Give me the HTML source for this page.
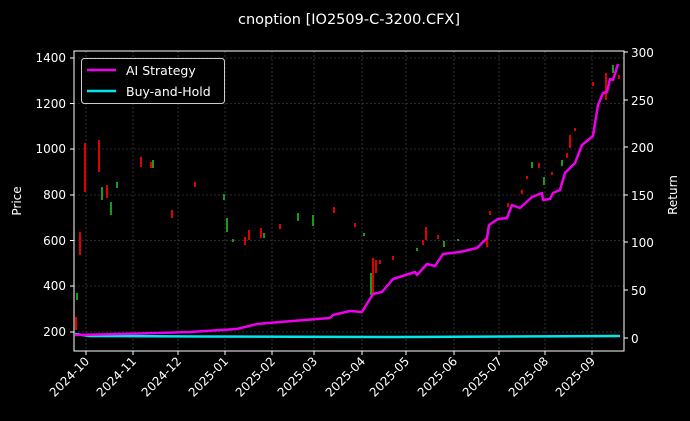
<!DOCTYPE html>
<html><head><meta charset="utf-8"><style>html,body{margin:0;padding:0;background:#000;}svg{display:block}</style></head>
<body>
<svg width="690" height="421" viewBox="0 0 690 421" xmlns="http://www.w3.org/2000/svg" font-family="DejaVu Sans, Liberation Sans, sans-serif">
<rect width="690" height="421" fill="#000"/>
<text x="349" y="24" fill="#fff" font-size="14.5" text-anchor="middle">cnoption [IO2509-C-3200.CFX]</text>
<g stroke="#555" stroke-width="0.6" stroke-dasharray="2,2">
<line x1="86" y1="51" x2="86" y2="351"/><line x1="133" y1="51" x2="133" y2="351"/><line x1="178" y1="51" x2="178" y2="351"/><line x1="225" y1="51" x2="225" y2="351"/><line x1="272" y1="51" x2="272" y2="351"/><line x1="314" y1="51" x2="314" y2="351"/><line x1="362" y1="51" x2="362" y2="351"/><line x1="406" y1="51" x2="406" y2="351"/><line x1="454" y1="51" x2="454" y2="351"/><line x1="499" y1="51" x2="499" y2="351"/><line x1="545" y1="51" x2="545" y2="351"/><line x1="592" y1="51" x2="592" y2="351"/>
<line x1="74" y1="58" x2="624" y2="58"/><line x1="74" y1="103.5" x2="624" y2="103.5"/><line x1="74" y1="149" x2="624" y2="149"/><line x1="74" y1="195" x2="624" y2="195"/><line x1="74" y1="240.5" x2="624" y2="240.5"/><line x1="74" y1="286" x2="624" y2="286"/><line x1="74" y1="332" x2="624" y2="332"/>
</g>
<g stroke-width="2">
<g stroke="#e00000">
<line x1="85" y1="143" x2="85" y2="192"/><line x1="80" y1="232" x2="80" y2="255"/><line x1="76" y1="317" x2="76" y2="330"/><line x1="99" y1="140" x2="99" y2="172"/><line x1="107" y1="185" x2="107" y2="198"/><line x1="141" y1="157" x2="141" y2="167"/><line x1="151" y1="162" x2="151" y2="168"/><line x1="172" y1="210" x2="172" y2="218"/><line x1="195" y1="182" x2="195" y2="187"/><line x1="245" y1="237" x2="245" y2="245"/><line x1="249" y1="230" x2="249" y2="240"/><line x1="261" y1="228" x2="261" y2="238"/><line x1="280" y1="224" x2="280" y2="229"/><line x1="334" y1="207" x2="334" y2="213"/><line x1="355" y1="223" x2="355" y2="227"/><line x1="373" y1="258" x2="373" y2="293"/><line x1="376" y1="260" x2="376" y2="273"/><line x1="380" y1="260" x2="380" y2="264"/><line x1="393" y1="256" x2="393" y2="260"/><line x1="423" y1="240" x2="423" y2="245"/><line x1="426" y1="227" x2="426" y2="240"/><line x1="438" y1="235" x2="438" y2="239"/><line x1="487" y1="239" x2="487" y2="247"/><line x1="490" y1="211" x2="490" y2="215"/><line x1="508" y1="203" x2="508" y2="207"/><line x1="522" y1="190" x2="522" y2="194"/><line x1="527" y1="176" x2="527" y2="179"/><line x1="539" y1="163" x2="539" y2="168"/><line x1="552" y1="172" x2="552" y2="175"/><line x1="567" y1="153" x2="567" y2="158"/><line x1="570" y1="135" x2="570" y2="148"/><line x1="575" y1="128" x2="575" y2="131"/><line x1="593" y1="82" x2="593" y2="86"/><line x1="606" y1="73" x2="606" y2="100"/><line x1="619" y1="75" x2="619" y2="79"/>
</g>
<g stroke="#1a9a1a">
<line x1="77" y1="293" x2="77" y2="300"/><line x1="102" y1="187" x2="102" y2="200"/><line x1="111" y1="202" x2="111" y2="215"/><line x1="117" y1="182" x2="117" y2="188"/><line x1="153" y1="160" x2="153" y2="168"/><line x1="224" y1="194" x2="224" y2="200"/><line x1="227" y1="218" x2="227" y2="232"/><line x1="233" y1="239" x2="233" y2="242"/><line x1="264" y1="233" x2="264" y2="238"/><line x1="298" y1="213" x2="298" y2="221"/><line x1="313" y1="215" x2="313" y2="226"/><line x1="364" y1="233" x2="364" y2="236"/><line x1="371" y1="273" x2="371" y2="295"/><line x1="417" y1="248" x2="417" y2="251"/><line x1="444" y1="241" x2="444" y2="247"/><line x1="458" y1="239" x2="458" y2="241"/><line x1="532" y1="162" x2="532" y2="168"/><line x1="544" y1="177" x2="544" y2="185"/><line x1="562" y1="160" x2="562" y2="166"/><line x1="613" y1="65" x2="613" y2="73"/>
</g>
</g>
<polyline fill="none" stroke="#00e5ee" stroke-width="2.5" points="75,334 90,336 200,336.5 400,337 620,336"/>
<polyline fill="none" stroke="#ee00ee" stroke-width="2.5" stroke-linejoin="round" points="75,335 100,334.5 140,333.5 175,332.5 190,332 237,329 257,324 280,322 330,318 333,315 350,311 362,312 373,294 382,292 393,279 415,272 417,275 427,264 435,266 443,254 460,252 477,248 487,238 489,225 498,219 507,218 512,205 520,208 532,197 542,193 543,200 550,199 553,193 560,190 565,173 575,163 582,145 593,136 598,105 603,93 607,92 610,79 613,80 618,64"/>
<rect x="74" y="51" width="550" height="300" fill="none" stroke="#fff" stroke-width="1"/>
<g stroke="#fff" stroke-width="1">
<line x1="70" y1="58" x2="74" y2="58"/><line x1="70" y1="103.5" x2="74" y2="103.5"/><line x1="70" y1="149" x2="74" y2="149"/><line x1="70" y1="195" x2="74" y2="195"/><line x1="70" y1="240.5" x2="74" y2="240.5"/><line x1="70" y1="286" x2="74" y2="286"/><line x1="70" y1="332" x2="74" y2="332"/>
<line x1="624" y1="52" x2="628" y2="52"/><line x1="624" y1="100" x2="628" y2="100"/><line x1="624" y1="147" x2="628" y2="147"/><line x1="624" y1="195" x2="628" y2="195"/><line x1="624" y1="242" x2="628" y2="242"/><line x1="624" y1="290" x2="628" y2="290"/><line x1="624" y1="338" x2="628" y2="338"/>
<line x1="86" y1="351" x2="86" y2="355"/><line x1="133" y1="351" x2="133" y2="355"/><line x1="178" y1="351" x2="178" y2="355"/><line x1="225" y1="351" x2="225" y2="355"/><line x1="272" y1="351" x2="272" y2="355"/><line x1="314" y1="351" x2="314" y2="355"/><line x1="362" y1="351" x2="362" y2="355"/><line x1="406" y1="351" x2="406" y2="355"/><line x1="454" y1="351" x2="454" y2="355"/><line x1="499" y1="351" x2="499" y2="355"/><line x1="545" y1="351" x2="545" y2="355"/><line x1="592" y1="351" x2="592" y2="355"/>
</g>
<g fill="#fff" font-size="12" text-anchor="end">
<text x="66" y="62">1400</text><text x="66" y="108">1200</text><text x="66" y="153">1000</text><text x="66" y="199">800</text><text x="66" y="245">600</text><text x="66" y="290">400</text><text x="66" y="336">200</text>
</g>
<g fill="#fff" font-size="12">
<text x="631" y="57">300</text><text x="631" y="105">250</text><text x="631" y="152">200</text><text x="631" y="200">150</text><text x="631" y="247">100</text><text x="631" y="295">50</text><text x="631" y="343">0</text>
</g>
<g fill="#fff" font-size="12" text-anchor="end">
<text transform="translate(90,362) rotate(-45)">2024-10</text><text transform="translate(137,362) rotate(-45)">2024-11</text><text transform="translate(182,362) rotate(-45)">2024-12</text><text transform="translate(229,362) rotate(-45)">2025-01</text><text transform="translate(276,362) rotate(-45)">2025-02</text><text transform="translate(318,362) rotate(-45)">2025-03</text><text transform="translate(366,362) rotate(-45)">2025-04</text><text transform="translate(410,362) rotate(-45)">2025-05</text><text transform="translate(458,362) rotate(-45)">2025-06</text><text transform="translate(503,362) rotate(-45)">2025-07</text><text transform="translate(549,362) rotate(-45)">2025-08</text><text transform="translate(596,362) rotate(-45)">2025-09</text>
</g>
<text transform="translate(21,201) rotate(-90)" fill="#fff" font-size="12" text-anchor="middle">Price</text>
<text transform="translate(677,195) rotate(-90)" fill="#fff" font-size="12" text-anchor="middle">Return</text>
<rect x="81.5" y="58.5" width="143" height="45" rx="3" fill="#000" fill-opacity="0.8" stroke="#ccc" stroke-width="1"/>
<line x1="87" y1="70" x2="116" y2="70" stroke="#ee00ee" stroke-width="2.5"/>
<line x1="87" y1="91" x2="116" y2="91" stroke="#00e5ee" stroke-width="2.5"/>
<text x="126" y="75" fill="#fff" font-size="12.5">AI Strategy</text>
<text x="126" y="96" fill="#fff" font-size="12.5">Buy-and-Hold</text>
</svg>
</body></html>
